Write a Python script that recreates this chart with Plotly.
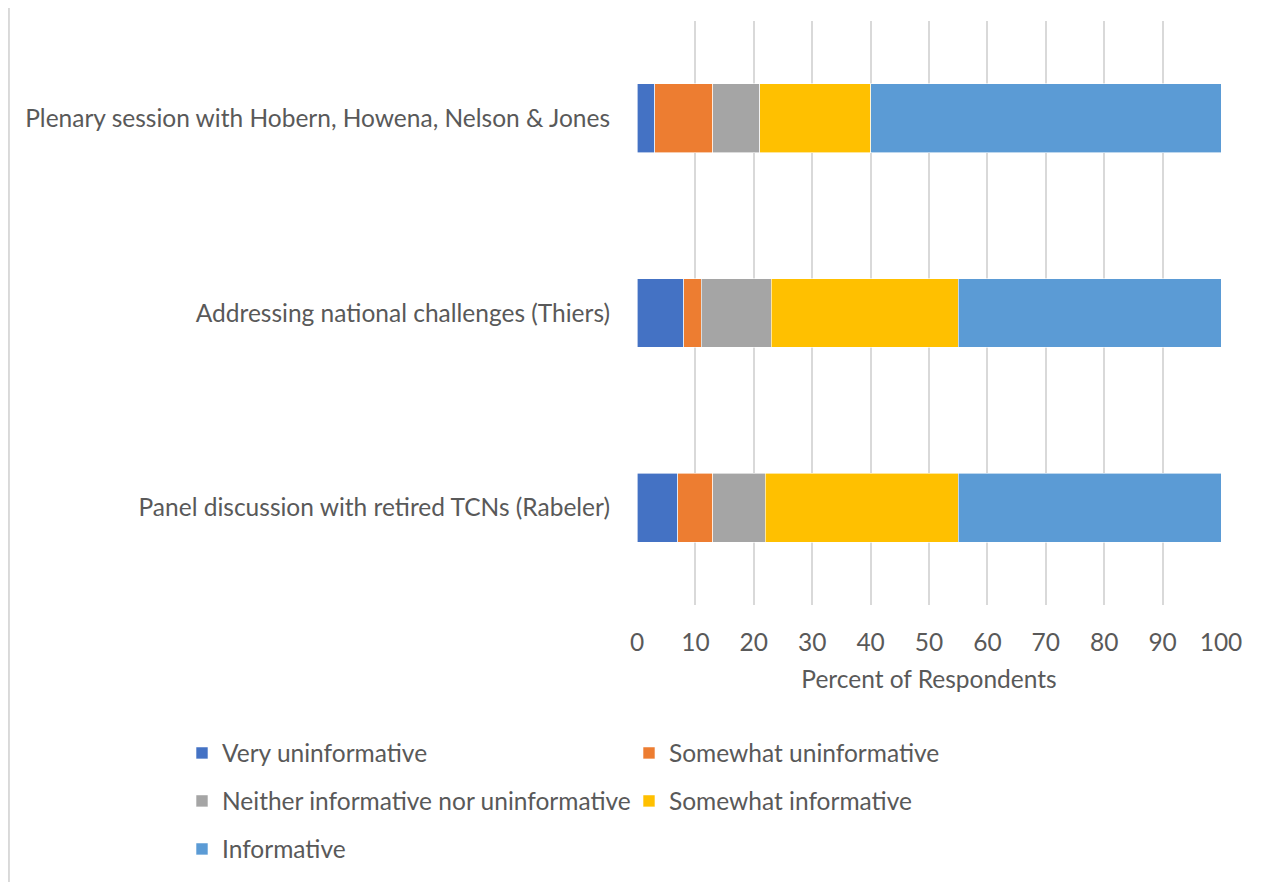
import plotly.graph_objects as go

# Chart data
##################################

sessions = [
    "Plenary session with Hobern, Howena, Nelson & Jones",
    "Addressing national challenges (Thiers)",
    "Panel discussion with retired TCNs (Rabeler)",
]
very_uninformative = [3, 8, 7]
somewhat_uninformative = [10, 3, 6]
neither = [8, 12, 9]
somewhat_informative = [19, 32, 33]
informative = [60, 45, 45]

x_ticks = [0, 10, 20, 30, 40, 50, 60, 70, 80, 90, 100]

series = [
    ("Very uninformative", very_uninformative, "#4472C4", "legend"),
    ("Somewhat uninformative", somewhat_uninformative, "#ED7D31", "legend"),
    ("Neither informative nor uninformative", neither, "#A5A5A5", "legend2"),
    ("Somewhat informative", somewhat_informative, "#FFC000", "legend2"),
    ("Informative", informative, "#5B9BD5", "legend3"),
]

FONT = "Lato"
FONT_SIZE = 24.5
GREY_TEXT = "#595959"
GRID = "#D9D9D9"


def legend_row(y):
    """ One legend row below the plot, two entries per row. """
    return dict(
        orientation="h",
        x=-0.7791,
        xanchor="left",
        y=y,
        yanchor="middle",
        entrywidth=402,
        font=dict(family=FONT, size=FONT_SIZE, color=GREY_TEXT),
        bgcolor="rgba(0,0,0,0)",
        traceorder="normal",
    )


fig = go.Figure()
for name, values, color, legend in series:
    fig.add_trace(
        go.Bar(
            x=values,
            y=sessions,
            name=name,
            orientation="h",
            marker=dict(color=color, line=dict(color="white", width=0.6)),
            legend=legend,
        )
    )

# the page body adds an 8px margin, so the figure is 8px smaller than the window
fig.update_layout(
    width=1262,
    height=874,
    barmode="stack",
    bargap=0.646,
    paper_bgcolor="white",
    plot_bgcolor="white",
    margin=dict(l=629, r=49, t=13, b=276),
    font=dict(family=FONT, size=FONT_SIZE, color=GREY_TEXT),
    legend=legend_row(-0.2513),
    legend2=legend_row(-0.3333),
    legend3=legend_row(-0.4154),
    showlegend=True,
)

fig.update_xaxes(
    range=[0, 100],
    tickvals=x_ticks,
    showgrid=True,
    gridcolor=GRID,
    gridwidth=1.5,
    zeroline=False,
    showline=False,
    ticks="",
    ticklabelstandoff=20,
    tickfont=dict(family=FONT, size=FONT_SIZE, color=GREY_TEXT),
    title=dict(
        text="Percent of Respondents",
        font=dict(family=FONT, size=FONT_SIZE, color=GREY_TEXT),
        standoff=16,
    ),
)
fig.update_yaxes(
    categoryorder="array",
    categoryarray=sessions,
    autorange="reversed",
    showgrid=False,
    showline=False,
    ticks="",
    ticklabelstandoff=26,
    tickfont=dict(family=FONT, size=FONT_SIZE, color=GREY_TEXT),
)

# left border of the chart area
fig.add_shape(
    type="line",
    xref="paper",
    yref="paper",
    x0=-1.0755,
    x1=-1.0755,
    y0=-0.5,
    y1=1.05,
    line=dict(color=GRID, width=2),
)

fig.write_html("out.html")
